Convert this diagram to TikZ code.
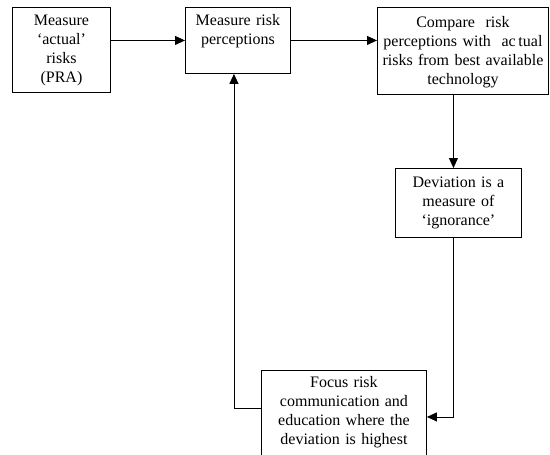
\documentclass[tikz,border=0pt]{standalone}
\usepackage{fontspec}
\setmainfont{Liberation Serif}
\usetikzlibrary{arrows.meta}
\begin{document}
\begin{tikzpicture}
  [x=1pt,y=-1pt,
   box/.style={rectangle,draw=black,line width=0.9pt,align=center,anchor=north west,
     inner xsep=3pt,inner ysep=0pt,text height=18pt,font=\fontsize{16}{19}\selectfont},
   flow/.style={-{Triangle[length=10pt,width=9pt]},line width=0.9pt}
  ]
  \useasboundingbox (0,0) rectangle (550,455);
  \node[box,text width=92pt,text depth=67pt] (actual) at (12,7) {Measure\\‘actual’\\risks\\(PRA)};
  \node[box,text width=99pt,text depth=48pt] (percept) at (185,7) {Measure risk\\perceptions};
  \node[box,text width=165pt,text depth=67pt,text height=20pt] (compare) at (377,7)
    {Compare~ risk\\perceptions with~ ac\,tual\\risks from best available\\technology};
  \node[box,text width=120pt,text depth=50pt,text height=19pt] (deviation) at (395,168)
    {Deviation is a\\measure of\\‘ignorance’};
  \node[box,text width=159pt,text depth=70pt,text height=17pt] (focus) at (261,370)
    {Focus risk\\communication and\\education where the\\deviation is highest};

  \draw[flow] (actual.east |- percept.west) -- (percept.west);
  \draw[flow] (percept.east) -- (percept.east -| compare.west);
  \draw[flow] ([xshift=-5pt]deviation.north |- compare.south) -- ([xshift=-5pt]deviation.north);
  \draw[flow] ([xshift=-5pt]deviation.south) |- ([yshift=-3pt]focus.east);
  \draw[flow] ([yshift=6pt]focus.west) -| ([xshift=-4pt]percept.south);
\end{tikzpicture}
\end{document}
